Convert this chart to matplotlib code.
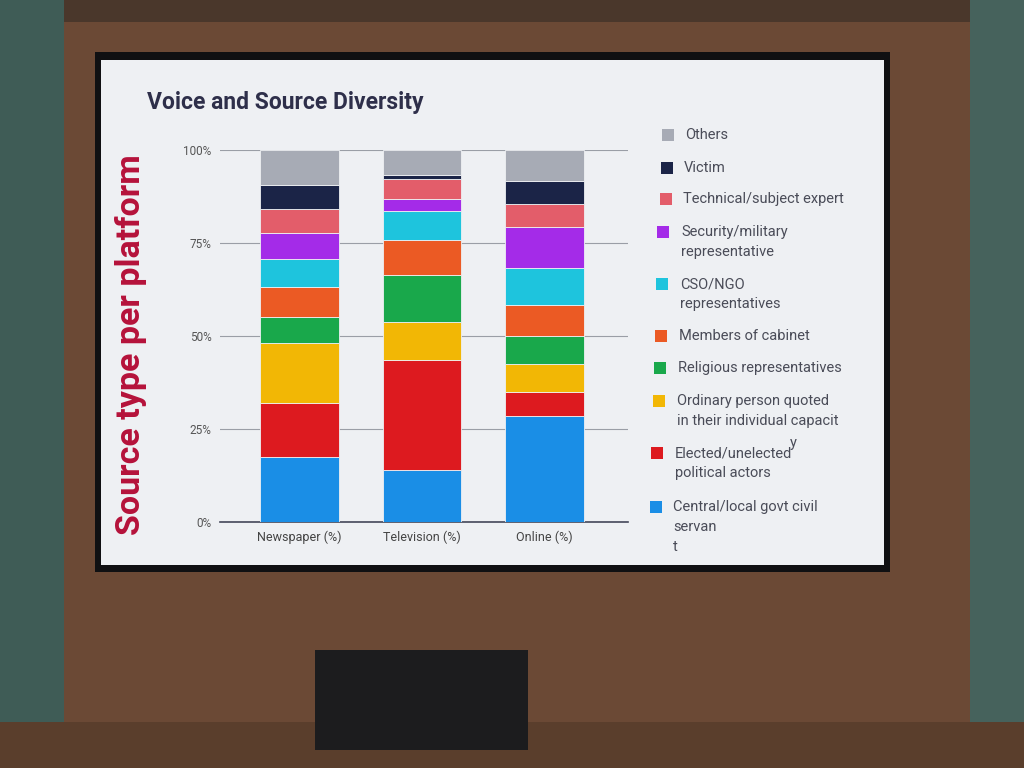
import matplotlib
matplotlib.use("Agg")
import matplotlib.pyplot as plt
from matplotlib.patches import Rectangle

# ---------------- data ----------------
platforms = ["Newspaper (%)", "Television (%)", "Online (%)"]
series_names = [
    "Central/local govt civil servant",
    "Elected/unelected political actors",
    "Ordinary person quoted in their individual capacity",
    "Religious representatives",
    "Members of cabinet",
    "CSO/NGO representatives",
    "Security/military representative",
    "Technical/subject expert",
    "Victim",
    "Others",
]
civil_servant = [17.6, 14.1, 28.4]
political_actors = [14.5, 29.5, 6.5]
ordinary_person = [16.0, 10.1, 7.5]
religious = [7.1, 12.8, 7.7]
cabinet = [8.1, 9.4, 8.2]
cso_ngo = [7.4, 7.8, 10.1]
security = [7.0, 3.1, 10.8]
expert = [6.4, 5.3, 6.2]
victim = [6.6, 1.1, 6.3]
others = [9.3, 6.8, 8.3]
series_values = [civil_servant, political_actors, ordinary_person, religious,
                 cabinet, cso_ngo, security, expert, victim, others]
yticks = [0, 25, 50, 75, 100]
ytick_labels = ["0%", "25%", "50%", "75%", "100%"]

# legend text as shown on the slide (top to bottom)
legend_lines = [
    ["Others"],
    ["Victim"],
    ["Technical/subject expert"],
    ["Security/military", "representative"],
    ["CSO/NGO", "representatives"],
    ["Members of cabinet"],
    ["Religious representatives"],
    ["Ordinary person quoted", "in their individual capacit"],
    ["Elected/unelected", "political actors"],
    ["Central/local govt civil", "servan", "t"],
]

colors = ["#1a8ee6", "#dd1a1f", "#f2b705", "#19a84b", "#eb5a24",
          "#1ec4dd", "#a42be8", "#e35d6a", "#1b2447", "#a7abb5"]

# ---------------- figure ----------------
plt.rcParams["font.family"] = ["Roboto", "DejaVu Sans"]
W, H = 1024, 768
fig = plt.figure(figsize=(10.24, 7.68), dpi=100, facecolor="#6b4935")


def fx(px):
    return px / W


def fy(py):
    return 1 - py / H


def add_rect(x0, y0, x1, y1, color, z):
    """rectangle in figure pixel coordinates (y measured from top)"""
    fig.patches.append(Rectangle((fx(x0), fy(y1)), fx(x1 - x0), (y1 - y0) / H,
                                 transform=fig.transFigure, facecolor=color,
                                 edgecolor="none", zorder=z))


# surroundings
add_rect(0, 0, 1024, 22, "#4a372b", 0)
add_rect(0, 0, 64, 768, "#3f5c56", 0.5)
add_rect(970, 0, 1024, 768, "#46625c", 0.5)
add_rect(0, 722, 1024, 768, "#5a3e2c", 0.6)
add_rect(315, 650, 528, 750, "#1c1c1e", 1)
# screen bezel and slide
add_rect(95, 52, 890, 572, "#101012", 1)
add_rect(101, 60, 884, 565, "#eef0f3", 2)

# title and y label
fig.text(fx(147), fy(103), "Voice and Source Diversity", fontsize=16.5,
         fontweight="bold", color="#2e2f4a", ha="left", va="center", zorder=5)
fig.text(fx(131), fy(345), "Source type per platform", fontsize=24.5,
         fontweight="bold", color="#b5123a", rotation=90,
         ha="center", va="center", zorder=5)

# ---------------- chart ----------------
ax = fig.add_axes([fx(220), fy(522), fx(408), (522 - 150) / H], zorder=3)
ax.set_facecolor("#eef0f3")
x = list(range(len(platforms)))
bottom = [0.0] * len(platforms)
for name, vals, col in zip(series_names, series_values, colors):
    ax.bar(x, vals, bottom=bottom, width=0.64, color=col, label=name,
           edgecolor="#eef0f3", linewidth=0.6, zorder=3)
    bottom = [b + v for b, v in zip(bottom, vals)]

ax.set_xlim(-0.65, 2.68)
ax.set_ylim(0, 100)
ax.set_yticks(yticks)
ax.set_yticklabels(ytick_labels, fontsize=8.5, color="#555555")
ax.set_xticks(x)
ax.set_xticklabels(platforms, fontsize=9, color="#444444")
ax.tick_params(axis="both", length=0, pad=6)
ax.grid(axis="y", color="#9a9ea6", linewidth=0.8, zorder=0)
for s in ["top", "right", "left"]:
    ax.spines[s].set_visible(False)
ax.spines["bottom"].set_color("#44475a")
ax.spines["bottom"].set_linewidth(1.2)

# ---------------- legend (top to bottom: Others ... Central) ----------------
entry_y = [135, 168, 199, 232, 284, 336, 368, 401, 453, 507]
square_x = [668, 667, 666, 663, 662, 661, 660, 659, 657, 656]
text_x = [685, 684, 683, 681, 680, 679, 678, 677, 675, 673]
legend_colors = colors[::-1]
for lines, yy, sx, tx, col in zip(legend_lines, entry_y, square_x, text_x, legend_colors):
    add_rect(sx - 6, yy - 6, sx + 6, yy + 6, col, 5)
    for k, line in enumerate(lines):
        fig.text(fx(tx), fy(yy + k * 20), line, fontsize=10.5, color="#4a4c58",
                 ha="left", va="center", zorder=5)
fig.text(fx(790), fy(443), "y", fontsize=10.5, color="#4a4c58",
         ha="left", va="center", zorder=5)

fig.savefig("out.png", dpi=100, facecolor=fig.get_facecolor())
